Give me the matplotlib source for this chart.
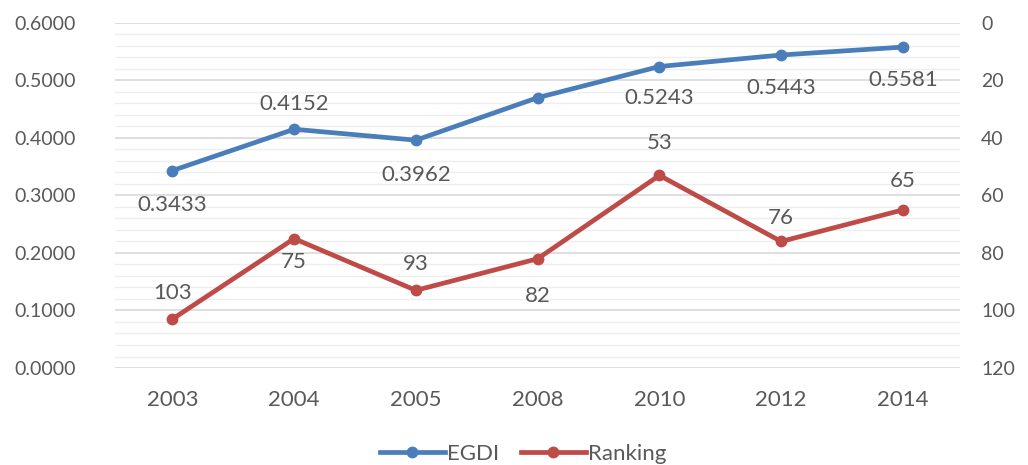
import matplotlib.pyplot as plt
import numpy as np
from matplotlib.ticker import MultipleLocator

years = ['2003', '2004', '2005', '2008', '2010', '2012', '2014']
egdi = [0.3433, 0.4152, 0.3962, 0.4701, 0.5243, 0.5443, 0.5581]
ranking = [103, 75, 93, 82, 53, 76, 65]

egdi_labels = ['0.3433', '0.4152', '0.3962', None, '0.5243', '0.5443', '0.5581']
# vertical offsets of the data labels (points, + = above)
egdi_off = [-25, 18, -25, 0, -23, -24, -24]
rank_off = [19, -17, 19, -27, 23, 17, 21]

plt.rcParams['font.family'] = ['Lato', 'DejaVu Sans']
blue = '#4a7ebb'
red = '#be4b48'
text_col = '#595959'
fs = 14
fs_big = 16

fig = plt.figure(figsize=(10.28, 4.65), dpi=100)
ax = fig.add_axes([0.112, 0.2086, 0.822, 0.742])
ax2 = ax.twinx()

x = np.arange(len(years))
ax.plot(x, egdi, color=blue, lw=3.4, marker='o', ms=7.5, zorder=3)
ax2.plot(x, ranking, color=red, lw=3.4, marker='o', ms=7.5, zorder=3)

ax.set_ylim(0, 0.6)
ax.yaxis.set_major_locator(MultipleLocator(0.1))
ax.yaxis.set_minor_locator(MultipleLocator(0.02))
ax.yaxis.set_major_formatter(lambda v, p: f'{v:.4f}')
ax.grid(True, which='major', axis='y', color='#d9d9d9', lw=1.2)
ax.grid(True, which='minor', axis='y', color='#eeeeee', lw=1.0)
ax.set_axisbelow(True)
ax.set_xlim(-0.47, len(years) - 0.53)
ax.set_xticks(x)
ax.set_xticklabels(years)

ax2.set_ylim(120, 0)
ax2.yaxis.set_major_locator(MultipleLocator(20))

for a in (ax, ax2):
    for s in a.spines.values():
        s.set_visible(False)
    a.tick_params(which='both', length=0, labelsize=fs, colors=text_col)
ax.tick_params(axis='y', pad=28)
ax.tick_params(axis='x', pad=16, labelsize=fs_big)
ax2.tick_params(axis='y', pad=15)

for i, lab in enumerate(egdi_labels):
    if lab is None:
        continue
    ax.annotate(lab, (x[i], egdi[i]), xytext=(0, egdi_off[i]), textcoords='offset points',
                ha='center', va='center', fontsize=fs_big, color=text_col)
for i, r in enumerate(ranking):
    ax2.annotate(str(r), (x[i], r), xytext=(0, rank_off[i]), textcoords='offset points',
                 ha='center', va='center', fontsize=fs_big, color=text_col)

h1, = ax.plot([], [], color=blue, lw=3.4, marker='o', ms=7.5, label='EGDI')
h2, = ax.plot([], [], color=red, lw=3.4, marker='o', ms=7.5, label='Ranking')
fig.legend(handles=[h1, h2], loc='lower center', bbox_to_anchor=(0.509, -0.04), ncol=2,
           frameon=False, fontsize=fs_big, labelcolor=text_col, handlelength=2.9,
           handletextpad=0.1, columnspacing=1.0)

fig.savefig('out.png', dpi=100)
